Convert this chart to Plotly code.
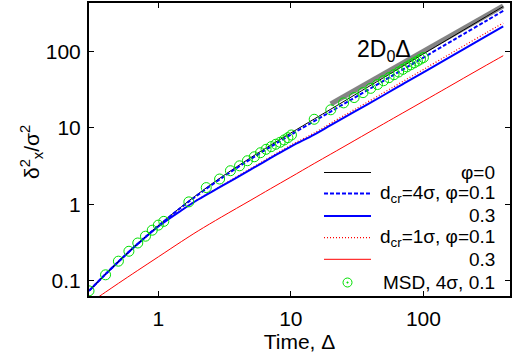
import plotly.graph_objects as go

# ---- data ----
delta = [0.3, 0.4, 0.5, 0.7, 1, 1.5, 2, 3, 5, 7, 10, 15, 20, 30, 50, 70, 100, 150, 200, 300, 400]

phi0 = [0.074, 0.1224, 0.178, 0.307, 0.528, 0.939, 1.377, 2.286, 4.11, 5.92, 8.6, 13.1, 17.6, 26.8, 45.5, 64.4, 93.2, 141.5, 190.3, 288.9, 388.5]
d4_phi01 = [0.074, 0.1224, 0.178, 0.306, 0.523, 0.922, 1.343, 2.21, 3.95, 5.64, 8.17, 12.3, 16.4, 24.7, 41.4, 58.2, 83.4, 126, 168.4, 254, 341]
d4_phi03 = [0.074, 0.1224, 0.178, 0.305, 0.515, 0.84, 1.16, 1.73, 2.88, 4.02, 5.72, 8.2, 10.9, 16.2, 26.8, 37.5, 53.5, 80.2, 107, 160.5, 214]
d1_phi01 = [0.074, 0.1224, 0.178, 0.305, 0.515, 0.845, 1.17, 1.76, 2.97, 4.17, 5.95, 8.6, 11.55, 17.3, 28.9, 40.6, 58.3, 87.9, 117.7, 177, 236.5]
d1_phi03 = [0.0506, 0.0713, 0.0928, 0.137, 0.206, 0.328, 0.451, 0.685, 1.14, 1.6, 2.28, 3.43, 4.55, 6.8, 11.3, 15.75, 22.4, 33.5, 44.6, 66.6, 88.2]

msd_t = [0.3, 0.4, 0.5, 0.6, 0.7, 0.8, 0.9, 1.0, 1.1, 1.7, 2.3, 2.9, 3.5, 4.1, 4.7, 5.3, 5.9, 6.5, 7.1, 7.7, 8.3, 8.9, 9.5, 10.1,
         15, 20, 25, 30, 35, 40, 45, 50, 55, 60, 65, 70, 75, 80, 85, 90, 95, 100]
msd_v = [0.074, 0.12, 0.181, 0.244, 0.313, 0.384, 0.46, 0.536, 0.60, 1.08, 1.66, 2.15, 2.76, 3.2, 3.73, 4.2, 4.75, 5.26, 5.7, 6.13, 6.5, 6.97, 7.47, 8.1,
         13.0, 17.3, 21.3, 25.0, 29.0, 33.0, 37.0, 41.5, 45.5, 49.8, 54.0, 58.5, 63.0, 67.0, 71.0, 75.0, 79.5, 83.5]

fit_t = [20, 400]          # 2 D0 Delta guide line
fit_v = [20.6, 395]

x_ticks = [1, 10, 100]
y_ticks = [0.1, 1, 10, 100]

legend_labels = ["φ=0", "d<sub>cr</sub>=4σ, φ=0.1", "0.3", "d<sub>cr</sub>=1σ, φ=0.1", "0.3", "MSD, 4σ, 0.1"]

FONT = "Liberation Sans, Arial, sans-serif"
GREEN = "#00e000"
DASH4 = "4px,2px"
DOT1 = "1px,2px"

fig = go.Figure()
fig.add_trace(go.Scatter(x=fit_t, y=fit_v, mode="lines",
                         line=dict(color="rgba(110,110,110,0.85)", width=5), showlegend=False))
fig.add_trace(go.Scatter(x=delta, y=d1_phi03, mode="lines", line=dict(color="#ff0000", width=1, shape="spline"), showlegend=False))
fig.add_trace(go.Scatter(x=delta, y=d1_phi01, mode="lines", line=dict(color="#ff0000", width=1.3, dash=DOT1, shape="spline"), showlegend=False))
fig.add_trace(go.Scatter(x=delta, y=d4_phi03, mode="lines", line=dict(color="#0000ff", width=2, shape="spline"), showlegend=False))
fig.add_trace(go.Scatter(x=delta, y=phi0, mode="lines", line=dict(color="#000000", width=1, shape="spline"), showlegend=False))
fig.add_trace(go.Scatter(x=delta, y=d4_phi01, mode="lines", line=dict(color="#0000ff", width=2, dash=DASH4, shape="spline"), showlegend=False))
fig.add_trace(go.Scatter(x=msd_t, y=msd_v, mode="markers",
                         marker=dict(symbol="circle-open", size=10, color=GREEN, line=dict(width=1, color=GREEN)),
                         showlegend=False))

# ---- hand-made legend (right-aligned text, samples on the left) ----
L, R, T, B = 89, 510, 3, 296
def px(x): return (x - L) / (R - L)
def py(y): return (B - y) / (B - T)

rows = [172.5, 193.5, 216, 237.7, 259.3, 282.5]
styles = [("#000000", 1, "solid"), ("#0000ff", 2, DASH4), ("#0000ff", 2, "solid"),
          ("#ff0000", 1.3, DOT1), ("#ff0000", 1, "solid")]
shapes = []
annots = []
for i, lab in enumerate(legend_labels):
    yy = py(rows[i])
    if i < 5:
        c, w, d = styles[i]
        shapes.append(dict(type="line", xref="paper", yref="paper", x0=px(324), x1=px(371), y0=yy, y1=yy,
                           line=dict(color=c, width=w, dash=d)))
    else:
        shapes.append(dict(type="circle", xref="paper", yref="paper", xsizemode="pixel", ysizemode="pixel",
                           xanchor=px(347.5), yanchor=yy, x0=-4.5, x1=4.5, y0=-4.5, y1=4.5,
                           line=dict(color=GREEN, width=1)))
        shapes.append(dict(type="circle", xref="paper", yref="paper", xsizemode="pixel", ysizemode="pixel",
                           xanchor=px(347.5), yanchor=yy, x0=-0.8, x1=0.8, y0=-0.8, y1=0.8,
                           fillcolor=GREEN, line=dict(color=GREEN, width=0.5)))
    annots.append(dict(text=lab, xref="paper", yref="paper", x=px(497), y=yy, xanchor="right", yanchor="middle",
                       showarrow=False, font=dict(size=19, color="#000000", family=FONT)))

annots.append(dict(text="2D<sub>0</sub>Δ", x=px(384), y=py(50), xref="paper", yref="paper",
                   xanchor="center", yanchor="middle", showarrow=False,
                   font=dict(size=23, color="#000000", family=FONT)))

# y-axis title, placed as in the reference
annots.append(dict(text="δ<sup>2</sup><sub>x</sub>/σ<sup>2</sup>", x=px(31), y=py(152), xref="paper", yref="paper",
                   xanchor="center", yanchor="middle", textangle=-90, showarrow=False,
                   font=dict(size=21, color="#000000", family=FONT)))

axis_common = dict(type="log", showgrid=False, zeroline=False, showline=True, linecolor="#000000", linewidth=2,
                   mirror="ticks", ticks="inside", ticklen=5, tickwidth=1, tickcolor="#000000", automargin=False,
                   tickfont=dict(size=21, color="#000000", family=FONT))

fig.update_layout(
    width=513, height=360,
    margin=dict(l=L, r=513 - R, t=T, b=360 - B, autoexpand=False),
    paper_bgcolor="#ffffff", plot_bgcolor="#ffffff",
    font=dict(family=FONT, color="#000000"),
    xaxis=dict(range=[-0.5229, 2.6532], tickvals=x_ticks, ticktext=[str(v) for v in x_ticks],
               title=dict(text="Time, Δ", font=dict(size=21, family=FONT), standoff=0),
               ticklabelstandoff=3, **axis_common),
    yaxis=dict(range=[-1.198, 2.635], tickvals=y_ticks, ticktext=["0.1", "1", "10", "100"],
               ticklabelstandoff=2, **axis_common),
    shapes=shapes, annotations=annots,
)

fig.write_html("out.html", config={"displayModeBar": False},
               post_script="document.body.style.margin='0';document.body.style.overflow='hidden';")
